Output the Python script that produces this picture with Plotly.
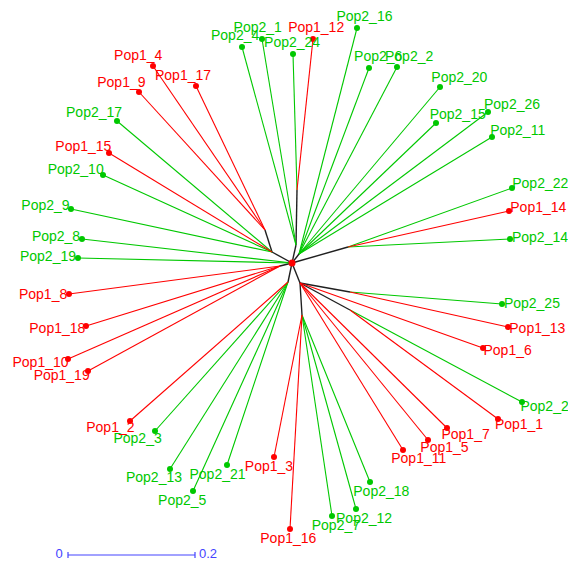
import math
import plotly.graph_objects as go

# ---- data (layout units = pixels of the 576x562 canvas) ----
node_names = ["R", "B", "A", "C", "E", "H", "F", "G", "I", "J", "K", "P", "M"]
node_x = [292, 296, 297, 299, 348, 300, 350, 350, 302, 288, 280, 272, 265]
node_y = [263, 245, 190, 254, 247, 283, 292, 310, 315, 282, 266, 252, 230]
node_parent = [None, "R", "B", "R", "R", "R", "H", "H", "H", "R", "R", "R", "P"]

leaf_names = ["Pop2_24", "Pop1_12", "Pop2_4", "Pop2_1", "Pop2_16", "Pop2_6", "Pop2_2",
              "Pop2_20", "Pop2_15", "Pop2_26", "Pop2_11", "Pop2_22", "Pop1_14", "Pop2_14",
              "Pop2_25", "Pop1_13", "Pop2_23", "Pop1_1", "Pop1_6", "Pop1_7", "Pop1_5",
              "Pop1_11", "Pop2_18", "Pop2_12", "Pop2_7", "Pop1_16", "Pop1_3", "Pop2_21",
              "Pop2_5", "Pop2_13", "Pop2_3", "Pop1_2", "Pop1_8", "Pop1_18", "Pop1_10",
              "Pop1_19", "Pop2_19", "Pop2_8", "Pop2_9", "Pop2_10", "Pop1_15", "Pop2_17",
              "Pop1_4", "Pop1_9", "Pop1_17"]
leaf_x = [293, 313, 242, 262, 357, 369, 397, 440, 436, 488, 492, 512, 509, 510,
          502, 508, 522, 498, 483, 447, 428, 403, 370, 356, 332, 290, 274, 227,
          193, 170, 155, 130, 69, 86, 68, 88, 78, 82, 71, 103, 109, 117, 153, 139, 196]
leaf_y = [54, 39, 47, 39, 28, 68, 67, 87, 123, 112, 137, 188, 211, 239,
          304, 327, 402, 419, 348, 428, 440, 450, 482, 509, 516, 529, 457, 465,
          491, 469, 431, 421, 294, 326, 359, 371, 258, 239, 209, 175, 153, 121, 66, 92, 86]
leaf_parent = ["A", "A", "B", "B", "C", "C", "C", "C", "C", "C", "C", "E", "E", "E",
               "F", "F", "G", "G", "H", "H", "H", "H", "I", "I", "I", "I", "I", "J",
               "J", "J", "J", "J", "K", "K", "K", "K", "R", "R", "P", "P", "P", "P",
               "M", "M", "M"]

scale_value = 0.2
scale_labels = ["0", "0.2"]
units_per_tree_unit = 635  # 0.2 tree units -> 127 layout units

RED = "#ff0000"
GREEN = "#00c800"
BLUE = "#4444ff"
FONT = "Arial, Liberation Sans, sans-serif"
FS = 14
PAGE_OFFSET = 8  # default page margin of the browser

npos = {n: (x, y) for n, x, y in zip(node_names, node_x, node_y)}

fig = go.Figure()

# internal (black) edges
bx, by = [], []
for n, p in zip(node_names, node_parent):
    if p is None:
        continue
    bx += [npos[p][0], npos[n][0], None]
    by += [npos[p][1], npos[n][1], None]
fig.add_trace(go.Scatter(x=bx, y=by, mode="lines", line=dict(color="#202020", width=1.4),
                         hoverinfo="skip", showlegend=False))

def col(name):
    return RED if name.startswith("Pop1") else GREEN

# terminal edges, by colour
for c in (GREEN, RED):
    ex, ey = [], []
    for n, x, y, p in zip(leaf_names, leaf_x, leaf_y, leaf_parent):
        if col(n) != c:
            continue
        ex += [npos[p][0], x, None]
        ey += [npos[p][1], y, None]
    fig.add_trace(go.Scatter(x=ex, y=ey, mode="lines", line=dict(color=c, width=1.1),
                             hoverinfo="skip", showlegend=False))

# leaf dots
fig.add_trace(go.Scatter(x=leaf_x, y=leaf_y, mode="markers",
                         marker=dict(size=6, color=[col(n) for n in leaf_names]),
                         hoverinfo="skip", showlegend=False))
# root dot
fig.add_trace(go.Scatter(x=[node_x[0]], y=[node_y[0]], mode="markers",
                         marker=dict(size=7, color=RED), hoverinfo="skip", showlegend=False))

# labels placed outward along the terminal edge direction
tx, ty = [], []
for n, x, y, p in zip(leaf_names, leaf_x, leaf_y, leaf_parent):
    dx, dy = x - npos[p][0], y - npos[p][1]
    L = math.hypot(dx, dy)
    dx, dy = dx / L, dy / L
    w = FS * (0.667 + 0.556 * (len(n) - 1))
    tx.append(x + dx * (w / 2 + 2))
    ty.append(y + dy * 11)
fig.add_trace(go.Scatter(x=tx, y=ty, mode="text", text=leaf_names, textposition="middle center",
                         textfont=dict(family=FONT, size=FS, color=[col(n) for n in leaf_names]),
                         hoverinfo="skip", showlegend=False, cliponaxis=False))

# scale bar
sx0, sy = 68, 555
sx1 = sx0 + scale_value * units_per_tree_unit
fig.add_trace(go.Scatter(x=[sx0, sx1], y=[sy, sy], mode="lines", line=dict(color=BLUE, width=1.2),
                         hoverinfo="skip", showlegend=False))
for xx in (sx0, sx1):
    fig.add_trace(go.Scatter(x=[xx, xx], y=[sy - 3, sy + 3], mode="lines",
                             line=dict(color=BLUE, width=1.2), hoverinfo="skip", showlegend=False))
fig.add_trace(go.Scatter(x=[sx0 - 9, sx1 + 13], y=[sy, sy], mode="text", text=scale_labels,
                         textposition="middle center",
                         textfont=dict(family=FONT, size=13, color=BLUE),
                         hoverinfo="skip", showlegend=False, cliponaxis=False))

fig.update_layout(
    width=576, height=562, margin=dict(l=0, r=0, t=0, b=0),
    paper_bgcolor="white", plot_bgcolor="white",
    xaxis=dict(range=[PAGE_OFFSET, 576 + PAGE_OFFSET], visible=False, fixedrange=True),
    yaxis=dict(range=[562 + PAGE_OFFSET, PAGE_OFFSET], visible=False, fixedrange=True),
)
fig.write_html("out.html")
